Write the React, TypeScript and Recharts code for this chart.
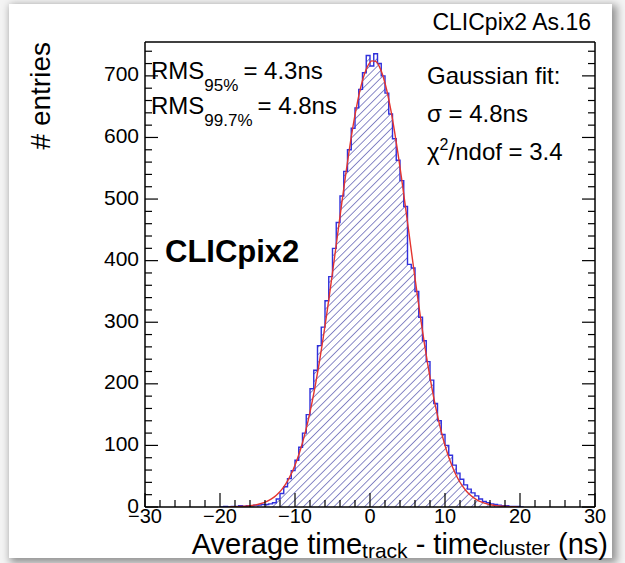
import { ComposedChart, Area, Line, XAxis, YAxis } from 'recharts';

// histogram: 0.5 ns bins, first bin starts at -20 ns
const BIN_WIDTH = 0.5;
const HIST_FIRST_EDGE = -20;
const histCounts = [
  0, 1, 0, 1, 1, 2, 1, 2, 2, 3,
  3, 4, 4, 5, 7, 13, 22, 33, 46, 59,
  76, 97, 120, 150, 192, 222, 262, 292, 335, 374,
  420, 462, 505, 545, 580, 615, 648, 678, 705, 733,
  716, 736, 720, 700, 672, 638, 598, 563, 530, 488,
  394, 388, 350, 308, 270, 236, 206, 168, 140, 118,
  100, 84, 68, 55, 45, 36, 29, 23, 18, 13,
  9, 7, 5, 4, 3, 2, 2, 1, 1, 1,
  0,
];

// gaussian fit curve, sampled every 0.5 ns from -18.75 ns
const FIT_FIRST_X = -18.75;
const FIT_STEP = 0.5;
const fitCounts = [
  0.24, 0.37, 0.55, 0.81, 1.2, 1.7, 2.4, 3.4, 4.8, 6.7,
  9.1, 12.3, 16.5, 21.9, 28.7, 37.2, 47.7, 60.4, 75.8, 94.1,
  115.5, 140.2, 168.5, 200.2, 235.4, 273.7, 314.9, 358.2, 403.1, 448.8,
  494.5, 538.7, 580.7, 619.2, 652.5, 680.8, 702.6, 717.3, 724.4, 723.6,
  715, 698.9, 675.8, 646.3, 611.5, 572.4, 530, 485.3, 439.7, 394.1,
  349.4, 306.4, 265.8, 228.1, 193.6, 162.5, 135, 110.9, 90.2, 72.5,
  57.7, 45.4, 35.4, 27.2, 20.7, 15.6, 11.6, 8.6, 6.3, 4.5,
  3.2, 2.3, 1.6, 1.1, 0.75, 0.5, 0.34, 0.22,
];

const xTicks = [
  -30, -28, -26, -24, -22, -20, -18, -16, -14, -12, -10, -8, -6, -4, -2,
  0, 2, 4, 6, 8, 10, 12, 14, 16, 18, 20, 22, 24, 26, 28, 30,
];
const yTicks = [
  0, 20, 40, 60, 80, 100, 120, 140, 160, 180, 200, 220, 240, 260, 280,
  300, 320, 340, 360, 380, 400, 420, 440, 460, 480, 500, 520, 540, 560,
  580, 600, 620, 640, 660, 680, 700, 720, 740,
];
const Y_MAX = 755;

const FONT = '"Liberation Sans", Arial, Helvetica, sans-serif';

const histData = histCounts.map((c, i) => ({ x: HIST_FIRST_EDGE + i * BIN_WIDTH, count: c }));
histData.push({ x: HIST_FIRST_EDGE + histCounts.length * BIN_WIDTH, count: histCounts[histCounts.length - 1] });
const fitData = fitCounts.map((f, i) => ({ x: FIT_FIRST_X + i * FIT_STEP, fit: f }));

const fmt = (v: number) => (v < 0 ? '\u2212' + Math.abs(v) : String(v));

function BottomTick({ x, y, payload }: any) {
  const major = payload.value % 10 === 0;
  return (
    <g>
      <line x1={x} x2={x} y1={y} y2={y - (major ? 14 : 7)} stroke="#000" strokeWidth={1.2} />
      {major && (
        <text x={x} y={y + 16} textAnchor="middle" fontSize={20} fontFamily={FONT} fill="#000">
          {fmt(payload.value)}
        </text>
      )}
    </g>
  );
}

function TopTick({ x, y, payload }: any) {
  const major = payload.value % 10 === 0;
  return <line x1={x} x2={x} y1={y} y2={y + (major ? 14 : 7)} stroke="#000" strokeWidth={1.2} />;
}

function LeftTick({ x, y, payload }: any) {
  const major = payload.value % 100 === 0;
  return (
    <g>
      <line x1={x} x2={x + (major ? 13 : 7)} y1={y} y2={y} stroke="#000" strokeWidth={1.2} />
      {major && (
        <text x={x - 6} y={y - 2} textAnchor="end" dominantBaseline="central" fontSize={21} fontFamily={FONT} fill="#000">
          {payload.value}
        </text>
      )}
    </g>
  );
}

function RightTick({ x, y, payload }: any) {
  const major = payload.value % 100 === 0;
  return <line x1={x} x2={x - (major ? 13 : 7)} y1={y} y2={y} stroke="#000" strokeWidth={1.2} />;
}

export default function App() {
  return (
    <div style={{ position: 'absolute', left: 0, top: 0, width: 625, height: 563, background: '#f4f4f4', overflow: 'hidden' }}>
      <div
        style={{
          position: 'absolute',
          left: 9,
          top: 4,
          width: 603,
          height: 554,
          background: '#fff',
          boxShadow: '3px 3px 8px 2px rgba(0,0,0,0.4)',
        }}
      />
      <div style={{ position: 'absolute', left: 0, top: 0 }}>
        <ComposedChart width={625} height={563} margin={{ top: 32, right: 20, bottom: 26, left: 85 }}>
          <defs>
            <pattern id="hatch" patternUnits="userSpaceOnUse" width={5.4} height={5.4} patternTransform="rotate(45)">
              <line x1={0} y1={0} x2={0} y2={5.4} stroke="#4c4caa" strokeWidth={1.3} />
            </pattern>
          </defs>
          <XAxis
            xAxisId="bottom"
            dataKey="x"
            type="number"
            domain={[-30, 30]}
            ticks={xTicks}
            interval={0}
            allowDataOverflow
            height={30}
            tickSize={0}
            tickMargin={0}
            tickLine={false}
            axisLine={{ stroke: '#000', strokeWidth: 1.5 }}
            tick={<BottomTick />}
          />
          <XAxis
            xAxisId="top"
            orientation="top"
            type="number"
            domain={[-30, 30]}
            ticks={xTicks}
            interval={0}
            allowDataOverflow
            height={10}
            tickSize={0}
            tickMargin={0}
            tickLine={false}
            axisLine={{ stroke: '#000', strokeWidth: 1.5 }}
            tick={<TopTick />}
          />
          <YAxis
            yAxisId="left"
            type="number"
            domain={[0, Y_MAX]}
            ticks={yTicks}
            interval={0}
            allowDataOverflow
            width={60}
            tickSize={0}
            tickMargin={0}
            tickLine={false}
            axisLine={{ stroke: '#000', strokeWidth: 1.5 }}
            tick={<LeftTick />}
          />
          <YAxis
            yAxisId="right"
            orientation="right"
            type="number"
            domain={[0, Y_MAX]}
            ticks={yTicks}
            interval={0}
            allowDataOverflow
            width={10}
            tickSize={0}
            tickMargin={0}
            tickLine={false}
            axisLine={{ stroke: '#000', strokeWidth: 1.5 }}
            tick={<RightTick />}
          />
          <Area
            xAxisId="bottom"
            yAxisId="left"
            data={histData}
            dataKey="count"
            type="stepAfter"
            stroke="#3030dc"
            strokeWidth={1.4}
            fill="url(#hatch)"
            fillOpacity={1}
            baseValue={0}
            dot={false}
            activeDot={false}
            isAnimationActive={false}
          />
          <Line
            xAxisId="bottom"
            yAxisId="left"
            data={fitData}
            dataKey="fit"
            type="monotone"
            stroke="#e4352f"
            strokeWidth={1.4}
            dot={false}
            activeDot={false}
            isAnimationActive={false}
          />
        </ComposedChart>
      </div>
      <svg width={625} height={563} style={{ position: 'absolute', left: 0, top: 0, pointerEvents: 'none' }} fontFamily={FONT}>
        <text x={591} y={30} textAnchor="end" fontSize={23} fill="#000">CLICpix2 As.16</text>
        <text transform="translate(50,42) rotate(-90)" textAnchor="end" fontSize={28} fill="#000"># entries</text>
        <text x={151} y={79} fontSize={24} fill="#000">
          RMS<tspan fontSize={17} dy={12}>95%</tspan>
          <tspan fontSize={24} dy={-12} dx={5}>= 4.3ns</tspan>
        </text>
        <text x={151} y={114} fontSize={24} fill="#000">
          RMS<tspan fontSize={17} dy={12}>99.7%</tspan>
          <tspan fontSize={24} dy={-12} dx={5}>= 4.8ns</tspan>
        </text>
        <text x={427} y={84} fontSize={24} fill="#000">Gaussian fit:</text>
        <text x={427} y={122} fontSize={24} fill="#000">σ = 4.8ns</text>
        <text x={427} y={160} fontSize={24} fill="#000">
          χ<tspan fontSize={16} dy={-10}>2</tspan>
          <tspan fontSize={24} dy={10}>/ndof = 3.4</tspan>
        </text>
        <text x={165} y={262} fontSize={31} fontWeight="bold" fill="#000">CLICpix2</text>
        <text x={608} y={554} textAnchor="end" fontSize={29} fill="#000">
          Average time<tspan fontSize={21} dy={4}>track</tspan>
          <tspan fontSize={29} dy={-4}>{' - time'}</tspan>
          <tspan fontSize={21} dy={1}>cluster</tspan>
          <tspan fontSize={29} dy={-1}>{' (ns)'}</tspan>
        </text>
      </svg>
    </div>
  );
}
